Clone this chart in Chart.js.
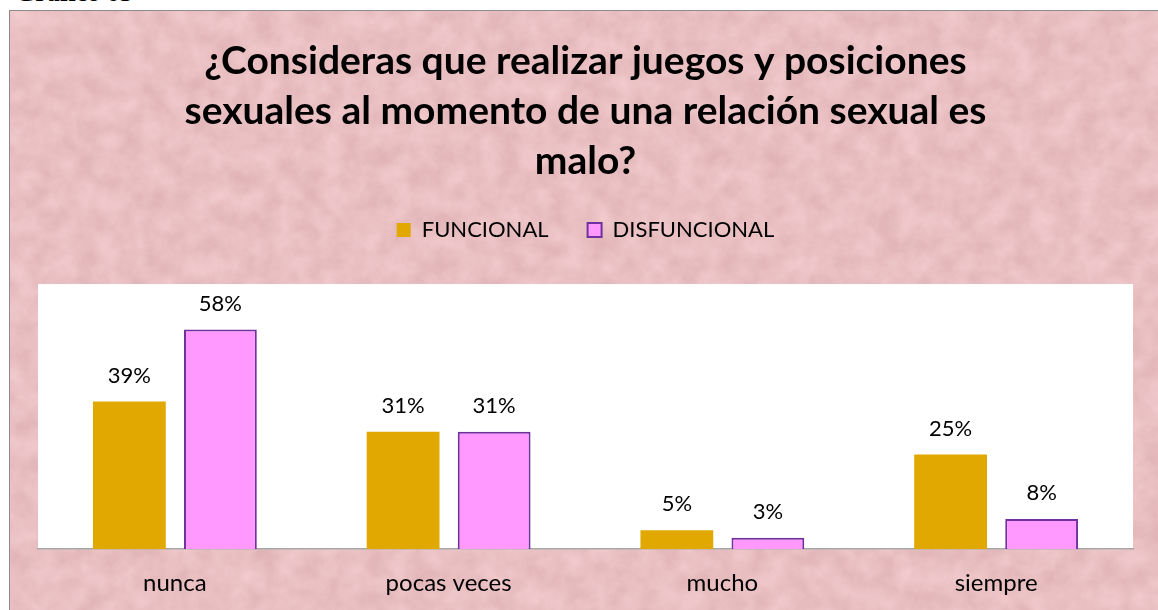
<!DOCTYPE html>
<html><head><meta charset="utf-8">
<script src="https://cdn.jsdelivr.net/npm/chart.js@4.4.1/dist/chart.umd.min.js"></script>
<style>
html,body{margin:0;padding:0;width:1158px;height:610px;overflow:hidden;background:#ffffff;}
#cap{position:absolute;left:15px;top:-20px;font:bold 26px "Liberation Serif",serif;line-height:26px;color:#000;white-space:nowrap;}
#frame{position:absolute;left:9px;top:10px;width:1170px;height:620px;border:1.5px solid #8c8c8c;box-sizing:border-box;
background-color:#e9bec1;
background-image:url("data:image/svg+xml;utf8,<svg xmlns='http://www.w3.org/2000/svg' width='1200' height='650'><filter id='f' color-interpolation-filters='sRGB'><feTurbulence type='fractalNoise' baseFrequency='0.045' numOctaves='4' seed='5'/><feColorMatrix type='matrix' values='0.09 0 0 0 0.87  0.12 0 0 0 0.69  0.12 0 0 0 0.70  0 0 0 0 1'/></filter><rect width='1200' height='650' filter='url(%23f)'/></svg>");
background-repeat:no-repeat;}
#wrap{position:absolute;left:9px;top:10px;width:1153px;height:608px;}
</style></head>
<body>
<div id="cap">Gráfico 05</div>
<div id="frame"></div>
<div id="wrap"><canvas id="c" width="1153" height="608"></canvas></div>
<script>
const titleLines = ["¿Consideras que realizar juegos y posiciones", "sexuales al momento de una relación sexual es", "malo?"];
const categories = ["nunca", "pocas veces", "mucho", "siempre"];
const seriesNames = ["FUNCIONAL", "DISFUNCIONAL"];
const funcional = [39, 31, 5, 25];
const disfuncional = [58, 31, 3, 8];

const FONT = "Lato, 'Open Sans', sans-serif";

const plotBg = {
  id: 'plotBg',
  beforeDraw(chart) {
    const {ctx, chartArea: a} = chart;
    ctx.save();
    ctx.fillStyle = '#ffffff';
    ctx.fillRect(a.left, a.top, a.right - a.left, a.bottom - a.top);
    ctx.restore();
  }
};
const valueLabels = {
  id: 'valueLabels',
  afterDatasetsDraw(chart) {
    const ctx = chart.ctx;
    ctx.save();
    ctx.font = "22px " + FONT;
    ctx.fillStyle = '#000';
    ctx.textAlign = 'center';
    ctx.textBaseline = 'middle';
    chart.data.datasets.forEach((ds, i) => {
      chart.getDatasetMeta(i).data.forEach((bar, j) => {
        ctx.fillText(ds.data[j] + '%', bar.x, bar.y - 26);
      });
    });
    ctx.restore();
  }
};

new Chart(document.getElementById('c'), {
  type: 'bar',
  data: {
    labels: categories,
    datasets: [
      {label: seriesNames[0], data: funcional, backgroundColor: '#E0A800', borderColor: '#E0A800', borderWidth: 0},
      {label: seriesNames[1], data: disfuncional, backgroundColor: '#FF99FF', borderColor: '#7030A0', borderWidth: 2}
    ]
  },
  options: {
    responsive: false,
    animation: false,
    devicePixelRatio: 1,
    layout: {padding: {left: 29, right: 29, top: 0, bottom: 0}},
    datasets: {bar: {categoryPercentage: 0.665, barPercentage: 0.8}},
    plugins: {
      title: {
        display: true,
        text: titleLines,
        color: '#000',
        font: {family: FONT, size: 39, weight: 'bold', lineHeight: 50/39},
        padding: {top: 26, bottom: -6}
      },
      subtitle: {
        display: true,
        text: '',
        position: 'top',
        weight: 500,
        font: {size: 1, lineHeight: 1},
        padding: {top: 32, bottom: 0}
      },
      legend: {
        display: true,
        position: 'top',
        labels: {
          color: '#000',
          font: {family: FONT, size: 22},
          boxWidth: 14, boxHeight: 14,
          padding: 39
        }
      },
      tooltip: {enabled: false}
    },
    scales: {
      x: {
        grid: {display: false, drawTicks: false},
        border: {display: true, color: '#a6a6a6', width: 1.5},
        ticks: {color: '#000', font: {family: FONT, size: 24}, padding: 20}
      },
      y: {
        display: false,
        min: 0, max: 70
      }
    }
  },
  plugins: [plotBg, valueLabels]
});
</script>
</body></html>
